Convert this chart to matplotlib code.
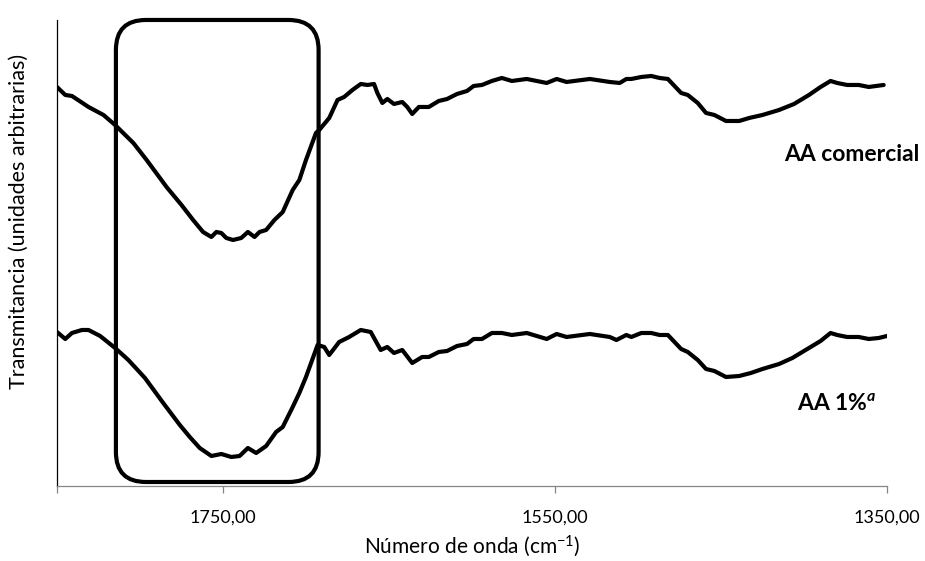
import matplotlib
matplotlib.use('Agg')
from matplotlib import pyplot as plt
from matplotlib.patches import FancyBboxPatch

plt.rcParams['font.family'] = ['Lato', 'DejaVu Sans']
plt.rcParams['mathtext.fontset'] = 'custom'
plt.rcParams['mathtext.rm'] = 'Lato'
plt.rcParams['mathtext.it'] = 'Lato:italic:bold'
plt.rcParams['mathtext.bf'] = 'Lato:bold'

# wavenumber (cm-1) and transmittance (arbitrary units)
wn_comercial = [1850, 1845, 1841, 1831, 1822, 1815, 1804, 1796, 1784, 1775,
                1768, 1762, 1757, 1754, 1751, 1748, 1744, 1739, 1735, 1731,
                1728, 1724, 1719, 1714, 1708, 1704, 1700, 1694, 1692, 1686,
                1681, 1677, 1672, 1667, 1663, 1659, 1657, 1654, 1651, 1647,
                1642, 1639, 1636, 1632, 1626, 1620, 1615, 1609, 1603, 1599,
                1594, 1588, 1582, 1576, 1567, 1555, 1549, 1543, 1529, 1517,
                1511, 1507, 1504, 1498, 1492, 1487, 1482, 1478, 1474, 1470,
                1464, 1459, 1454, 1447, 1439, 1433, 1425, 1415, 1406, 1397,
                1390, 1384, 1380, 1374, 1367, 1361, 1352]
t_comercial = [399, 391, 390, 379, 371, 361, 343, 326, 299, 281,
               266, 254, 249, 254, 253, 248, 246, 248, 254, 249,
               254, 256, 266, 274, 296, 306, 326, 353, 356, 368,
               386, 389, 396, 402, 401, 402, 393, 383, 387, 382,
               384, 379, 372, 379, 379, 385, 387, 392, 395, 400,
               401, 405, 408, 405, 407, 403, 407, 404, 407, 404,
               403, 407, 407, 409, 410, 408, 407, 400, 393, 391,
               383, 373, 371, 365, 365, 368, 371, 376, 382, 391,
               399, 405, 403, 401, 401, 399, 401]

wn_1pct = [1850, 1845, 1841, 1835, 1831, 1824, 1815, 1807, 1797, 1786,
           1776, 1770, 1764, 1757, 1751, 1745, 1740, 1735, 1730, 1724,
           1718, 1714, 1708, 1704, 1700, 1693, 1689, 1686, 1680, 1674,
           1667, 1661, 1655, 1651, 1647, 1642, 1636, 1630, 1626, 1620,
           1615, 1609, 1603, 1599, 1594, 1588, 1582, 1576, 1567, 1555,
           1549, 1543, 1529, 1517, 1513, 1507, 1504, 1498, 1492, 1487,
           1482, 1478, 1474, 1470, 1464, 1459, 1454, 1447, 1439, 1432,
           1425, 1415, 1407, 1397, 1390, 1384, 1380, 1374, 1367, 1361,
           1355, 1350]
t_1pct = [154, 147, 153, 156, 156, 150, 138, 126, 108, 83,
          61, 49, 38, 30, 32, 29, 30, 38, 33, 40,
          54, 59, 79, 93, 109, 141, 139, 131, 144, 149,
          156, 154, 136, 139, 133, 136, 123, 129, 129, 134,
          135, 140, 142, 147, 147, 153, 153, 151, 153, 147,
          152, 149, 152, 149, 146, 151, 149, 153, 153, 151,
          151, 144, 137, 134, 126, 117, 115, 109, 110, 113,
          117, 122, 128, 138, 145, 153, 151, 149, 149, 147,
          148, 150]

xticks = [1850, 1750, 1550, 1350]
xticklabels = ['', '1750,00', '1550,00', '1350,00']
box_range = (1692.4, 1814.5)

fig = plt.figure(figsize=(9.25, 5.61), dpi=100)
ax = fig.add_axes([0.0616, 0.1337, 0.8973, 0.8307])

ax.plot(wn_comercial, t_comercial, color='black', lw=3.0,
        solid_joinstyle='round', solid_capstyle='round')
ax.plot(wn_1pct, t_1pct, color='black', lw=3.0,
        solid_joinstyle='round', solid_capstyle='round')

ax.set_xlim(1850, 1350)
ax.set_ylim(0, 466)

# rounded box around the carbonyl band
ax_w = fig.get_figwidth() * fig.dpi * 0.8973
ax_h = fig.get_figheight() * fig.dpi * 0.8307
x_ppu = ax_w / 500.0
y_ppu = ax_h / 466.0
aspect = x_ppu / y_ppu
radius = 30 / x_ppu
box = FancyBboxPatch((box_range[0], 4), box_range[1] - box_range[0], 462,
                     boxstyle='round,pad=0,rounding_size=%f' % radius,
                     mutation_aspect=aspect, fill=False, ec='black', lw=3.0,
                     clip_on=False)
ax.add_patch(box)

ax.text(1412, 331, 'AA comercial', ha='left', va='center',
        fontsize=16.5, fontweight='bold', clip_on=False)
ax.text(1404, 82, r'AA 1%$^{a}$', ha='left', va='center',
        fontsize=16.5, fontweight='bold')

for s in ['top', 'right']:
    ax.spines[s].set_visible(False)
ax.spines['left'].set_color('black')
ax.spines['left'].set_linewidth(0.9)
ax.spines['bottom'].set_color('#868686')
ax.spines['bottom'].set_linewidth(0.9)

ax.set_yticks([])
ax.set_xticks(xticks)
ax.set_xticklabels(xticklabels)
ax.tick_params(axis='x', direction='out', length=5, width=0.9, color='#868686',
               labelsize=13, pad=12)
ax.get_xticklines()[0].set_color('black')
ax.set_xlabel(r'Número de onda (cm$^{-1}$)', fontsize=15, va='center')
ax.xaxis.set_label_coords(0.5, -0.13)
ax.set_ylabel('Transmitancia (unidades arbitrarias)', fontsize=15.5, va='center')
ax.yaxis.set_label_coords(-0.046, 0.567)

fig.savefig('out.png', dpi=100)
